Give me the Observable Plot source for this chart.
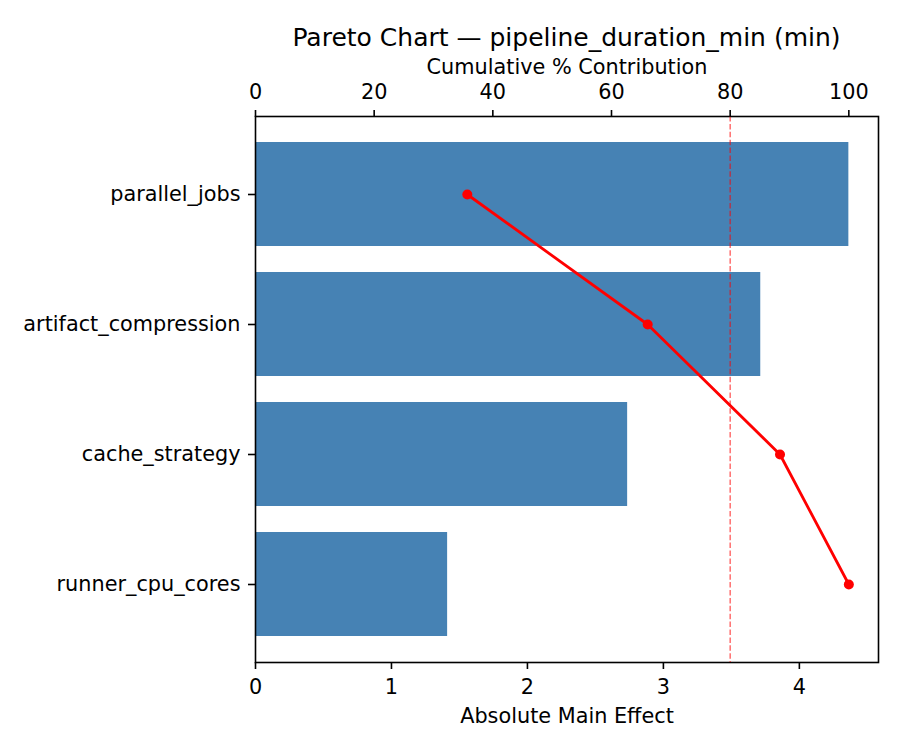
<!DOCTYPE html>
<html>
<head>
<meta charset="utf-8">
<script src="https://cdn.jsdelivr.net/npm/d3@7"></script>
<script src="https://cdn.jsdelivr.net/npm/@observablehq/plot@0.6"></script>
<style>
  body { margin: 0; background: #fff; font-family: "DejaVu Sans", sans-serif; }
  #wrap { position: relative; width: 900px; height: 750px; background: #fff; }
  #title { height: 52px; box-sizing: border-box; padding: 23px 22px 0 255px; line-height: 29px;
           font-size: 25px; text-align: center; color: #000; white-space: nowrap; }
  #over { position: absolute; left: 0; top: 52px; }
</style>
</head>
<body>
<div id="wrap">
  <div id="title">Pareto Chart — pipeline_duration_min (min)</div>
  <div id="base"></div>
  <div id="over"></div>
</div>
<script>
// ---- data ----
const factors = ["parallel_jobs", "artifact_compression", "cache_strategy", "runner_cpu_cores"];
const effects = [4.364, 3.716, 2.737, 1.413];          // absolute main effect
const cumulativePct = [35.7, 66.1, 88.4, 100];          // cumulative % contribution
const effectTicks = [0, 1, 2, 3, 4];
const pctTicks = [0, 20, 40, 60, 80, 100];
const threshold = [80];
const effectDomain = [0, 4.582];
const pctDomain = [0, 105];

const data = factors.map((f, i) => ({factor: f, effect: effects[i], cum: cumulativePct[i]}));

const W = 900, H = 698;
const margins = {marginTop: 64, marginRight: 22, marginBottom: 88, marginLeft: 255};
const yOpts = {type: "band", domain: factors, paddingInner: 0.2, paddingOuter: 0.19};
const font = {fontFamily: "DejaVu Sans", fontSize: "20.8px", overflow: "visible", color: "black"};

const base = Plot.plot({
  width: W, height: H, ...margins,
  x: {domain: effectDomain},
  y: {...yOpts},
  style: {...font, background: "white"},
  marks: [
    Plot.barX(data, {x: "effect", y: "factor", fill: "steelblue"}),
    Plot.frame({stroke: "black", strokeWidth: 1.6}),
    Plot.axisX({anchor: "bottom", ticks: effectTicks, tickFormat: "d", tickSize: 7, tickPadding: 10, strokeWidth: 1.6,
      fontSize: 20.8, label: "Absolute Main Effect", labelAnchor: "center", labelOffset: 60, labelArrow: "none"}),
    Plot.axisY({anchor: "left", tickSize: 7, tickPadding: 8, strokeWidth: 1.6, fontSize: 20.8, label: null})
  ]
});
document.getElementById("base").appendChild(base);

const over = Plot.plot({
  width: W, height: H, ...margins,
  x: {domain: pctDomain},
  y: {...yOpts, axis: null},
  style: {...font, background: "transparent"},
  marks: [
    Plot.ruleX(threshold, {stroke: "red", strokeOpacity: 0.65, strokeWidth: 1.3, strokeDasharray: "5.5,2.4"}),
    Plot.line(data, {x: "cum", y: "factor", stroke: "red", strokeWidth: 2.8}),
    Plot.dot(data, {x: "cum", y: "factor", fill: "red", stroke: null, r: 5}),
    Plot.axisX({anchor: "top", ticks: pctTicks, tickFormat: "d", tickSize: 7, tickPadding: 11, strokeWidth: 1.6,
      fontSize: 20.8, label: "Cumulative % Contribution", labelAnchor: "center", labelOffset: 57, labelArrow: "none"})
  ]
});
document.getElementById("over").appendChild(over);
</script>
</body>
</html>
